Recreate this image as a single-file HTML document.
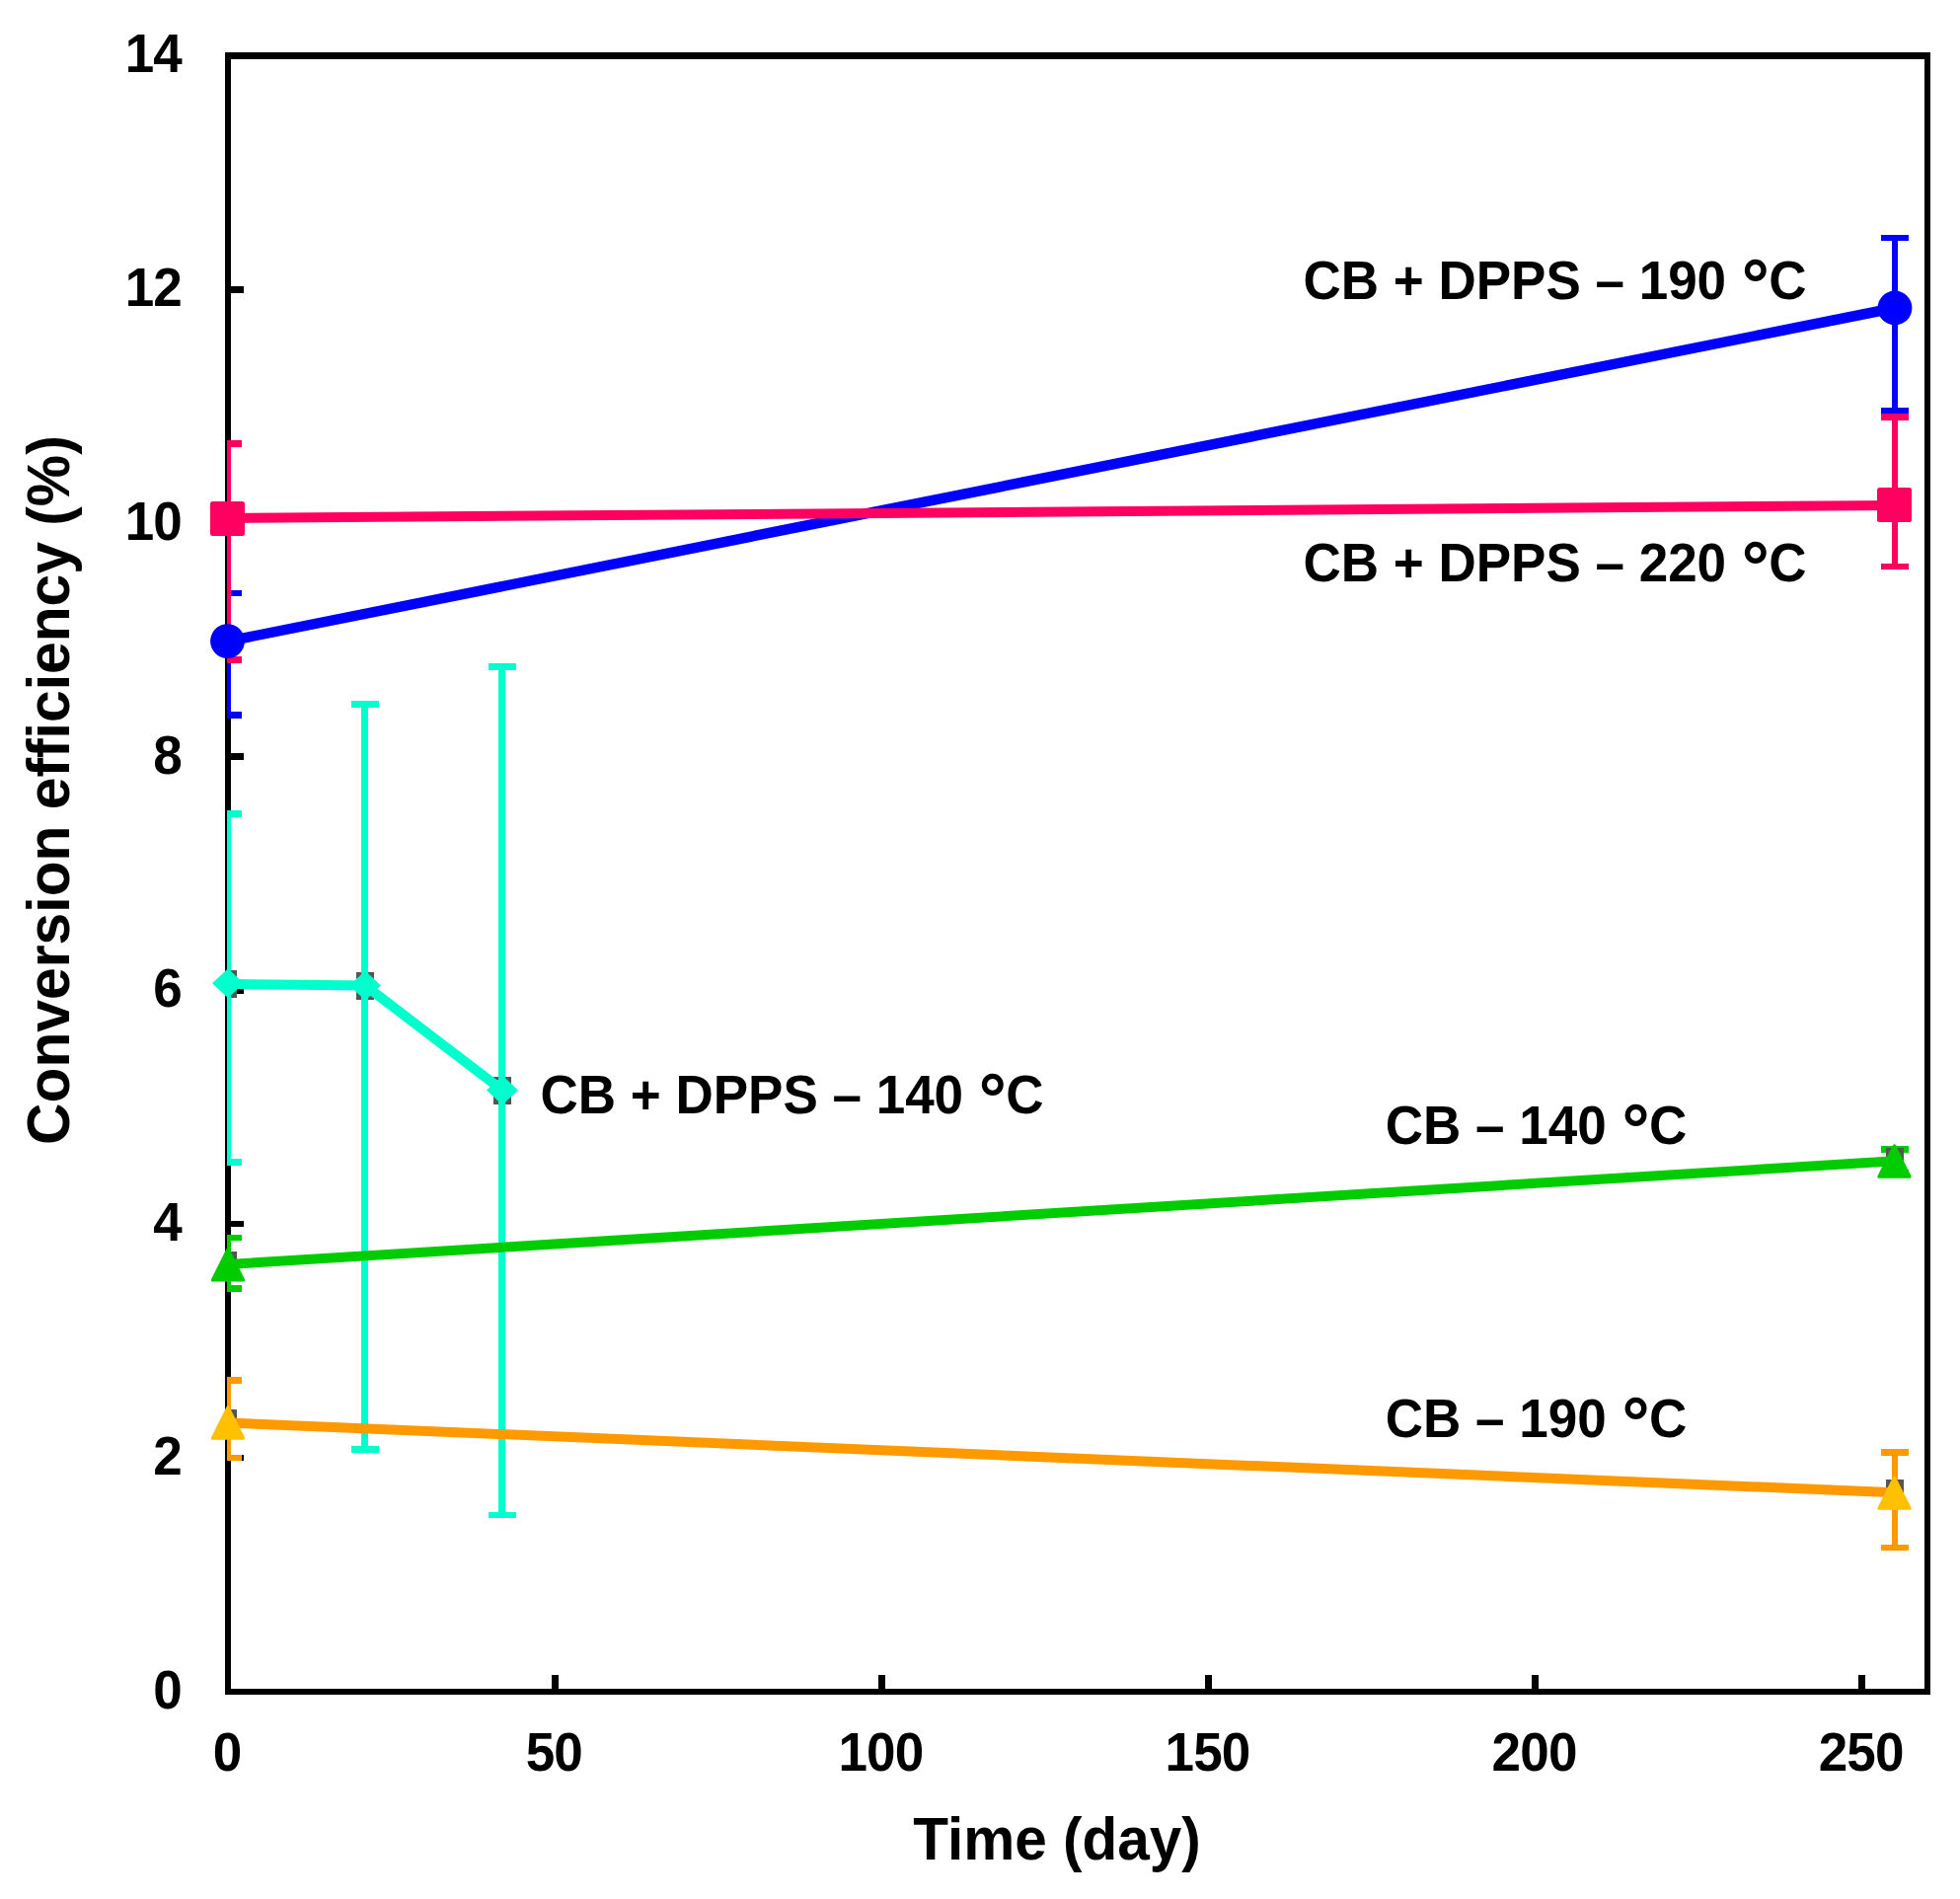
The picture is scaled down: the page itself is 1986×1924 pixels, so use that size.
<!DOCTYPE html>
<html lang="en"><head><meta charset="utf-8"><title>Conversion efficiency vs time</title>
<style>html,body{margin:0;padding:0;background:#fff}body{width:1986px;height:1924px;overflow:hidden}svg{display:block}text{font-family:"Liberation Sans",Arial,Helvetica,sans-serif;font-weight:bold;fill:#000}.t{font-size:53px}.tk{letter-spacing:-0.8px}.dg{font-size:70px}.ax{font-size:58.5px}.ay{font-size:58.8px}</style></head><body>
<svg width="1986" height="1924" viewBox="0 0 1986 1924">
<rect width="1986" height="1924" fill="#fff"/>
<defs><clipPath id="plot"><rect x="230" y="53" width="1726" height="1664"/></clipPath></defs>
<g shape-rendering="crispEdges" fill="#000">
<rect x="228" y="53" width="6" height="1664"/>
<rect x="1950" y="53" width="6" height="1664"/>
<rect x="228" y="53" width="1728" height="7"/>
<rect x="228" y="1711" width="1728" height="6"/>
<rect x="234" y="1474" width="13" height="6"/>
<rect x="234" y="1237" width="13" height="6"/>
<rect x="234" y="1000" width="13" height="7"/>
<rect x="234" y="763" width="13" height="7"/>
<rect x="234" y="527" width="13" height="7"/>
<rect x="234" y="290" width="13" height="7"/>
<rect x="559" y="1697" width="7" height="14"/>
<rect x="890" y="1697" width="7" height="14"/>
<rect x="1221" y="1697" width="7" height="14"/>
<rect x="1552" y="1697" width="7" height="14"/>
<rect x="1883" y="1697" width="7" height="14"/>
</g>
<g clip-path="url(#plot)" shape-rendering="crispEdges">
<g fill="#0000ff"><rect x="228" y="598" width="6" height="130"/><rect x="217" y="598" width="28" height="6"/><rect x="217" y="721" width="28" height="7"/></g>
<g fill="#0000ff"><rect x="1917" y="238" width="6" height="182"/><rect x="1906" y="238" width="28" height="6"/><rect x="1906" y="413" width="28" height="7"/></g>
<g fill="#ff0060"><rect x="228" y="446" width="6" height="226"/><rect x="217" y="446" width="28" height="7"/><rect x="217" y="665" width="28" height="7"/></g>
<g fill="#ff0060"><rect x="1917" y="419" width="6" height="158"/><rect x="1906" y="419" width="28" height="7"/><rect x="1906" y="571" width="28" height="6"/></g>
<g fill="#00cc00"><rect x="228" y="1251" width="6" height="58"/><rect x="217" y="1251" width="28" height="6"/><rect x="217" y="1302" width="28" height="7"/></g>
<g fill="#00cc00"><rect x="1917" y="1161" width="6" height="30"/><rect x="1906" y="1161" width="28" height="7"/><rect x="1906" y="1185" width="28" height="6"/></g>
<g fill="#ff9900"><rect x="228" y="1395" width="6" height="85"/><rect x="217" y="1395" width="28" height="7"/><rect x="217" y="1474" width="28" height="6"/></g>
<g fill="#ff9900"><rect x="1917" y="1468" width="6" height="103"/><rect x="1906" y="1468" width="28" height="7"/><rect x="1906" y="1565" width="28" height="6"/></g>
<rect x="222" y="983" width="18" height="28" fill="#555555"/>
<rect x="361" y="985" width="18" height="28" fill="#555555"/>
<rect x="500" y="1091" width="18" height="28" fill="#555555"/>
<rect x="222" y="1268" width="18" height="28" fill="#555555"/>
<rect x="1911" y="1163" width="18" height="28" fill="#555555"/>
<rect x="222" y="1428" width="18" height="28" fill="#555555"/>
<rect x="1911" y="1499" width="18" height="28" fill="#555555"/>
<g fill="#00ffcc"><rect x="228" y="821" width="6" height="360"/><rect x="217" y="821" width="28" height="7"/><rect x="217" y="1174" width="28" height="7"/></g>
<g fill="#00ffcc"><rect x="366" y="710" width="7" height="762"/><rect x="356" y="710" width="28" height="7"/><rect x="356" y="1465" width="28" height="7"/></g>
<g fill="#00ffcc"><rect x="505" y="672" width="7" height="866"/><rect x="495" y="672" width="28" height="7"/><rect x="495" y="1532" width="28" height="6"/></g>
</g>
<g fill="none" stroke-linecap="butt" stroke-linejoin="round">
<path d="M231 1441.5L1920 1512.3" stroke="#ff9900" stroke-width="10"/>
<path d="M231 1281L1920 1176.2" stroke="#00cc00" stroke-width="10"/>
<path d="M231 996.9L370 998.5L509 1104.5" stroke="#00ffcc" stroke-width="10"/>
<path d="M231 649.6L1920 312" stroke="#0000ff" stroke-width="10.5"/>
<path d="M230.5 525L1919.5 512" stroke="#ff0060" stroke-width="10"/>
</g>
<path d="M231 1425.7L246.7 1457.2L215.3 1457.2Z" fill="#ffc000" stroke="#ffc000" stroke-width="3" stroke-linejoin="round"/>
<path d="M1919.5 1496.8L1935.2 1528.3L1903.8 1528.3Z" fill="#ffc000" stroke="#ffc000" stroke-width="3" stroke-linejoin="round"/>
<path d="M231 1265.5L246.7 1297L215.3 1297Z" fill="#00cc00" stroke="#00cc00" stroke-width="3" stroke-linejoin="round"/>
<path d="M1919.5 1160.7L1935.2 1192.2L1903.8 1192.2Z" fill="#00cc00" stroke="#00cc00" stroke-width="3" stroke-linejoin="round"/>
<path d="M231 981.3L247 996.3L231 1011.3L215 996.3Z" fill="#00ffcc"/>
<path d="M370 983.6L386 998.6L370 1013.6L354 998.6Z" fill="#00ffcc"/>
<path d="M509 1089.5L525 1104.5L509 1119.5L493 1104.5Z" fill="#00ffcc"/>
<rect x="213" y="508" width="35" height="35" rx="2.5" fill="#ff0060"/>
<rect x="1902" y="494" width="35" height="35" rx="2.5" fill="#ff0060"/>
<circle cx="230.5" cy="649.6" r="17.4" fill="#0000ff"/>
<circle cx="1920" cy="312" r="17.4" fill="#0000ff"/>
<text class="t tk" transform="translate(184 1730.5) scale(1 1.04)" text-anchor="end">0</text>
<text class="t tk" transform="translate(184 1493.75) scale(1 1.04)" text-anchor="end">2</text>
<text class="t tk" transform="translate(184 1257) scale(1 1.04)" text-anchor="end">4</text>
<text class="t tk" transform="translate(184 1020.25) scale(1 1.04)" text-anchor="end">6</text>
<text class="t tk" transform="translate(184 783.5) scale(1 1.04)" text-anchor="end">8</text>
<text class="t tk" transform="translate(184 546.75) scale(1 1.04)" text-anchor="end">10</text>
<text class="t tk" transform="translate(184 310) scale(1 1.04)" text-anchor="end">12</text>
<text class="t tk" transform="translate(184 73) scale(1 1.04)" text-anchor="end">14</text>
<text class="t tk" transform="translate(230.2 1793.5) scale(1 1.04)" text-anchor="middle">0</text>
<text class="t tk" transform="translate(561.3 1793.5) scale(1 1.04)" text-anchor="middle">50</text>
<text class="t tk" transform="translate(892.4 1793.5) scale(1 1.04)" text-anchor="middle">100</text>
<text class="t tk" transform="translate(1223.5 1793.5) scale(1 1.04)" text-anchor="middle">150</text>
<text class="t tk" transform="translate(1554.6 1793.5) scale(1 1.04)" text-anchor="middle">200</text>
<text class="t tk" transform="translate(1885.7 1793.5) scale(1 1.04)" text-anchor="middle">250</text>
<text class="t" transform="translate(1320.5 303) scale(1 1.04)">CB + DPPS – 190 <tspan class="dg" dx="1" dy="10">°</tspan><tspan dx="-0.5" dy="-10">C</tspan></text>
<text class="t" transform="translate(1320.5 589) scale(1 1.04)">CB + DPPS – 220 <tspan class="dg" dx="1" dy="10">°</tspan><tspan dx="-0.5" dy="-10">C</tspan></text>
<text class="t" transform="translate(547.5 1127.5) scale(1 1.04)">CB + DPPS – 140 <tspan class="dg" dx="1" dy="10">°</tspan><tspan dx="-0.5" dy="-10">C</tspan></text>
<text class="t" transform="translate(1403.8 1159) scale(1 1.04)">CB – 140 <tspan class="dg" dx="1" dy="10">°</tspan><tspan dx="-0.5" dy="-10">C</tspan></text>
<text class="t" transform="translate(1403.8 1456) scale(1 1.04)">CB – 190 <tspan class="dg" dx="1" dy="10">°</tspan><tspan dx="-0.5" dy="-10">C</tspan></text>
<text class="ax" transform="translate(1071 1883.5) scale(1 1.04)" text-anchor="middle">Time (day)</text>
<text class="ax ay" transform="translate(69.5 800.6) rotate(-90) scale(1 1.04)" text-anchor="middle">Conversion efficiency (%)</text>
</svg></body></html>
